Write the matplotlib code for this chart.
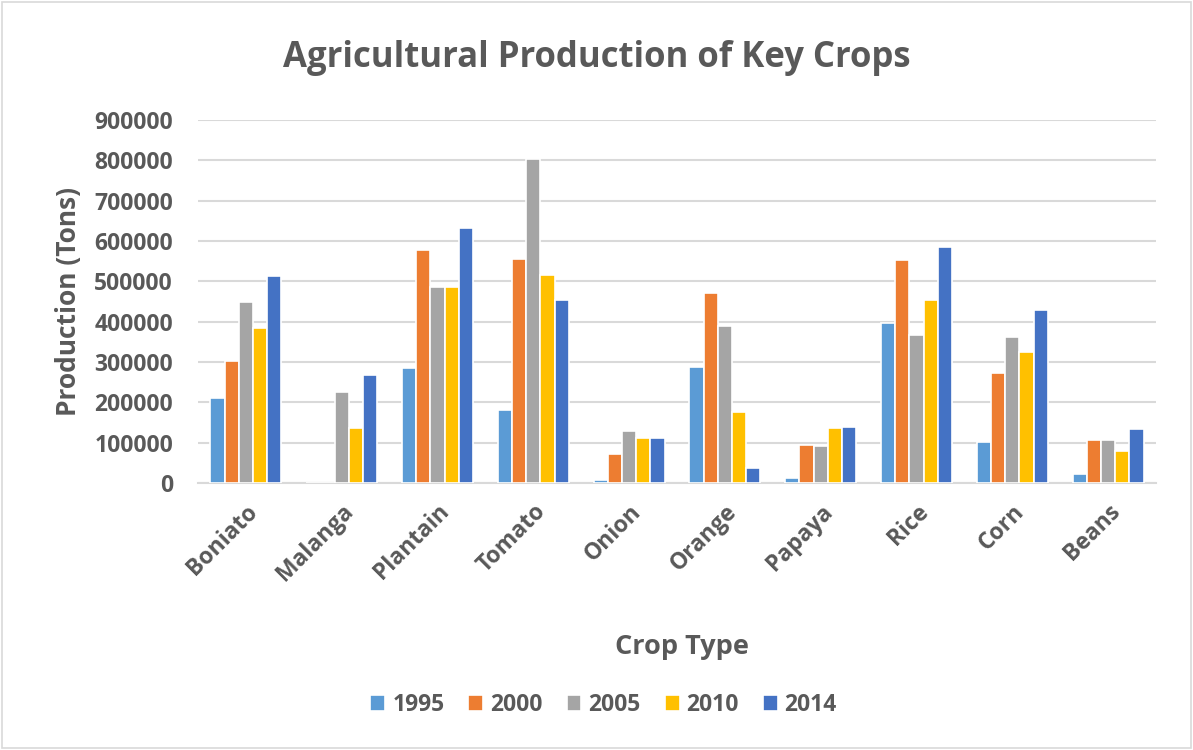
import matplotlib.pyplot as plt
import numpy as np

plt.rcParams['font.family'] = ['Open Sans', 'DejaVu Sans']

crops = ['Boniato', 'Malanga', 'Plantain', 'Tomato', 'Onion',
         'Orange', 'Papaya', 'Rice', 'Corn', 'Beans']
years = ['1995', '2000', '2005', '2010', '2014']

p1995 = [210000, 0, 285000, 181000, 7500, 287000, 13000, 396000, 102000, 23000]
p2000 = [302000, 0, 578000, 555000, 73000, 471000, 95000, 553000, 272000, 106000]
p2005 = [450000, 225000, 485000, 803000, 130000, 390000, 92000, 367000, 363000, 106000]
p2010 = [385000, 137000, 485000, 516000, 111000, 177000, 137000, 454000, 325000, 80000]
p2014 = [512000, 269000, 632000, 453000, 112000, 36000, 140000, 585000, 428000, 135000]

series = [p1995, p2000, p2005, p2010, p2014]
colors = ['#5B9BD5', '#ED7D31', '#A5A5A5', '#FFC000', '#4472C4']

fig = plt.figure(figsize=(11.93, 7.5), dpi=100)
ax = fig.add_axes([0.166, 0.356, 0.803, 0.484])

x = np.arange(len(crops))
w = 0.148
for i, (vals, c, yr) in enumerate(zip(series, colors, years)):
    ax.bar(x + (i - 2) * w, vals, w, color=c, edgecolor='white', linewidth=1.2,
           label=yr, zorder=3)

ax.set_xlim(-0.5, len(crops) - 0.5)
ax.set_ylim(0, 900000)
ax.set_yticks(np.arange(0, 900001, 100000))
ax.set_yticklabels([str(v) for v in range(0, 900001, 100000)])
ax.yaxis.grid(True, color='#D9D9D9', linewidth=1.5, zorder=0)
ax.set_xticks(x)
ax.set_xticklabels(crops, rotation=45, ha='right', rotation_mode='anchor')

for s in ['top', 'right', 'left']:
    ax.spines[s].set_visible(False)
ax.spines['bottom'].set_color('#D9D9D9')
ax.spines['bottom'].set_linewidth(1.5)
ax.tick_params(length=0, labelsize=16.5, labelcolor='#595959')
ax.tick_params(axis='y', pad=18)
ax.tick_params(axis='x', pad=12)
for lab in ax.get_xticklabels() + ax.get_yticklabels():
    lab.set_fontweight('bold')

ax.set_ylabel('Production (Tons)', fontsize=19, fontweight='bold', color='#595959', labelpad=9)
fig.text(0.5, 0.923, 'Agricultural Production of Key Crops', ha='center', va='center',
         fontsize=25, fontweight='bold', color='#595959')
fig.text(0.572, 0.137, 'Crop Type', ha='center', va='center',
         fontsize=19.5, fontweight='bold', color='#595959')

leg = fig.legend(loc='center', bbox_to_anchor=(0.506, 0.06), ncol=5, frameon=False,
                 handlelength=0.65, handleheight=0.65, handletextpad=0.3, columnspacing=1.05,
                 prop={'size': 16.5, 'weight': 'bold'})
for t in leg.get_texts():
    t.set_color('#595959')

fig.patches.append(plt.Rectangle((0.002, 0.003), 0.996, 0.994, transform=fig.transFigure,
                                 fill=False, edgecolor='#D9D9D9', linewidth=1.2))

fig.savefig('out.png', dpi=100)
